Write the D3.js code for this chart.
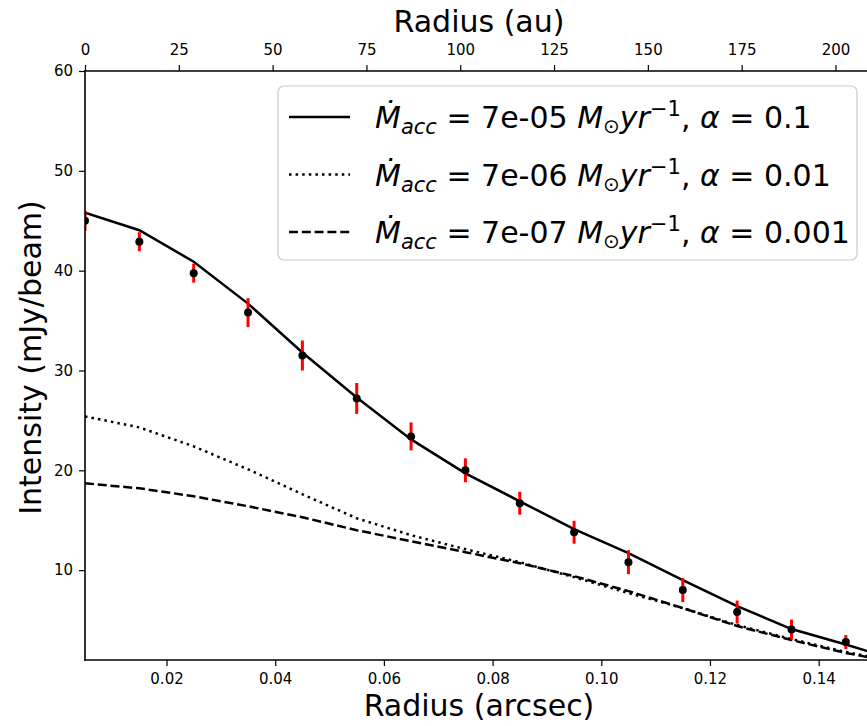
<!DOCTYPE html>
<html>
<head>
<meta charset="utf-8">
<script src="https://cdn.jsdelivr.net/npm/d3@7"></script>
<style>
  html, body { margin: 0; padding: 0; background: #fff; }
  svg { display: block; }
  text { font-family: "DejaVu Sans", sans-serif; fill: #000; }
</style>
</head>
<body>
<svg id="chart" width="867" height="726"></svg>
<script>
// ---------------- DATA ----------------
const obsRadius = [0.005, 0.015, 0.025, 0.035, 0.045, 0.055, 0.065, 0.075, 0.085, 0.095, 0.105, 0.115, 0.125, 0.135, 0.145];
const obsIntensity = [45.0, 42.9, 39.75, 35.8, 31.5, 27.2, 23.4, 20.0, 16.7, 13.8, 10.8, 8.0, 5.8, 4.05, 2.8];
const obsError = [1.0, 0.95, 0.95, 1.45, 1.5, 1.55, 1.4, 1.2, 1.15, 1.15, 1.2, 1.2, 1.15, 1.0, 0.7];

const modelRadius = [0.005, 0.015, 0.025, 0.035, 0.045, 0.055, 0.065, 0.075, 0.085, 0.095, 0.105, 0.115, 0.125, 0.135, 0.145, 0.155];
const modelAlpha01 = [45.8, 44.05, 40.9, 36.7, 31.8, 27.3, 23.1, 19.7, 16.9, 14.1, 11.7, 9.0, 6.4, 4.1, 2.55, 0.9];
const modelAlpha001 = [25.4, 24.3, 22.4, 20.1, 17.6, 15.2, 13.5, 12.1, 10.8, 9.3, 7.7, 6.2, 4.5, 3.1, 1.8, 0.8];
const modelAlpha0001 = [18.7, 18.2, 17.4, 16.4, 15.3, 14.0, 12.9, 11.8, 10.7, 9.4, 7.9, 6.2, 4.4, 3.0, 1.7, 0.7];

const xTicks = [0.02, 0.04, 0.06, 0.08, 0.10, 0.12, 0.14];
const auTicks = [0, 25, 50, 75, 100, 125, 150, 175, 200];
const yTicks = [10, 20, 30, 40, 50, 60];

const legendRates = ["7e-05", "7e-06", "7e-07"];
const legendAlphas = ["0.1", "0.01", "0.001"];

// ---------------- LAYOUT ----------------
const svg = d3.select("#chart");
const L = 85, R = 873, T = 71, B = 660;

const x = d3.scaleLinear().domain([0.005, 0.15]).range([L, R]);
const xAu = d3.scaleLinear().domain([0, 210]).range([L, R]);
const y = d3.scaleLinear().domain([1, 60]).range([B, T]);

svg.append("defs").append("clipPath").attr("id", "plotclip")
  .append("rect").attr("x", L).attr("y", T).attr("width", R - L).attr("height", B - T);

const plot = svg.append("g").attr("clip-path", "url(#plotclip)");

const line = d3.line().x((d, i) => x(modelRadius[i])).y(d => y(d));

const models = [
  { values: modelAlpha01, dash: null },
  { values: modelAlpha001, dash: "2.5,4.1" },
  { values: modelAlpha0001, dash: "9,3.8" }
];

models.forEach(m => {
  plot.append("path")
    .datum(m.values)
    .attr("d", line)
    .attr("fill", "none")
    .attr("stroke", "#000")
    .attr("stroke-width", 2.5)
    .attr("stroke-dasharray", m.dash);
});

// error bars
plot.selectAll(".err").data(obsRadius).enter().append("line")
  .attr("x1", d => x(d)).attr("x2", d => x(d))
  .attr("y1", (d, i) => y(obsIntensity[i] - obsError[i]))
  .attr("y2", (d, i) => y(obsIntensity[i] + obsError[i]))
  .attr("stroke", "#ff0000").attr("stroke-width", 3);

plot.selectAll(".pt").data(obsRadius).enter().append("circle")
  .attr("cx", d => x(d)).attr("cy", (d, i) => y(obsIntensity[i]))
  .attr("r", 4).attr("fill", "#000");

// ---------------- AXES ----------------
const tickFont = 15;
const gx = svg.append("g").attr("transform", `translate(0,${B})`)
  .call(d3.axisBottom(x).tickValues(xTicks).tickFormat(d3.format(".2f")).tickSizeOuter(0).tickSize(6).tickPadding(7));
const gxt = svg.append("g").attr("transform", `translate(0,${T})`)
  .call(d3.axisTop(xAu).tickValues(auTicks).tickFormat(d3.format("d")).tickSizeOuter(0).tickSize(6).tickPadding(10));
const gy = svg.append("g").attr("transform", `translate(${L},0)`)
  .call(d3.axisLeft(y).tickValues(yTicks).tickFormat(d3.format("d")).tickSizeOuter(0).tickSize(6).tickPadding(6));

[gx, gxt, gy].forEach(g => {
  g.selectAll("text").style("font-family", "DejaVu Sans").style("font-size", tickFont + "px").attr("fill", "#000");
  g.selectAll("line").attr("stroke", "#000").attr("stroke-width", 1.2);
  g.select(".domain").remove();
});

// spines
const spines = svg.append("g").attr("stroke", "#000").attr("stroke-width", 1.6).attr("stroke-linecap", "square");
spines.append("line").attr("x1", L).attr("x2", L).attr("y1", T).attr("y2", B);
spines.append("line").attr("x1", L).attr("x2", R).attr("y1", B).attr("y2", B);
spines.append("line").attr("x1", L).attr("x2", R).attr("y1", T).attr("y2", T);

// axis titles
svg.append("text").attr("x", (L + R) / 2).attr("y", 716).attr("text-anchor", "middle")
  .style("font-size", "30px").text("Radius (arcsec)");
svg.append("text").attr("x", (L + R) / 2).attr("y", 32).attr("text-anchor", "middle")
  .style("font-size", "30px").text("Radius (au)");
svg.append("text").attr("transform", `translate(41,${(T + B) / 2 - 8}) rotate(-90)`)
  .attr("text-anchor", "middle").style("font-size", "30px").text("Intensity (mJy/beam)");

// ---------------- LEGEND ----------------
const leg = svg.append("g");
leg.append("rect").attr("x", 278).attr("y", 86).attr("width", 579).attr("height", 174)
  .attr("rx", 6).attr("fill", "#fff").attr("fill-opacity", 0.8)
  .attr("stroke", "#cccccc").attr("stroke-width", 1.2);

const rowY = [117, 174.5, 232];
models.forEach((m, i) => {
  leg.append("line").attr("x1", 289).attr("x2", 350).attr("y1", rowY[i]).attr("y2", rowY[i])
    .attr("stroke", "#000").attr("stroke-width", 2.5).attr("stroke-dasharray", m.dash);
  const t = leg.append("text").attr("x", 375).attr("y", rowY[i] + 11).style("font-size", "30px");
  t.append("tspan").style("font-style", "italic").text("Ṁ");
  t.append("tspan").style("font-style", "italic").style("font-size", "21px").attr("dy", 6).text("acc");
  t.append("tspan").attr("dy", -6).text(" = " + legendRates[i] + " ");
  t.append("tspan").style("font-style", "italic").text("M");
  t.append("tspan").style("font-size", "20px").attr("dy", 5).text("⊙");
  t.append("tspan").style("font-style", "italic").attr("dy", -5).text("yr");
  t.append("tspan").style("font-size", "21px").attr("dy", -12).text("−1");
  t.append("tspan").attr("dy", 12).text(", ");
  t.append("tspan").style("font-style", "italic").text("α");
  t.append("tspan").text(" = " + legendAlphas[i]);
});
</script>
</body>
</html>
